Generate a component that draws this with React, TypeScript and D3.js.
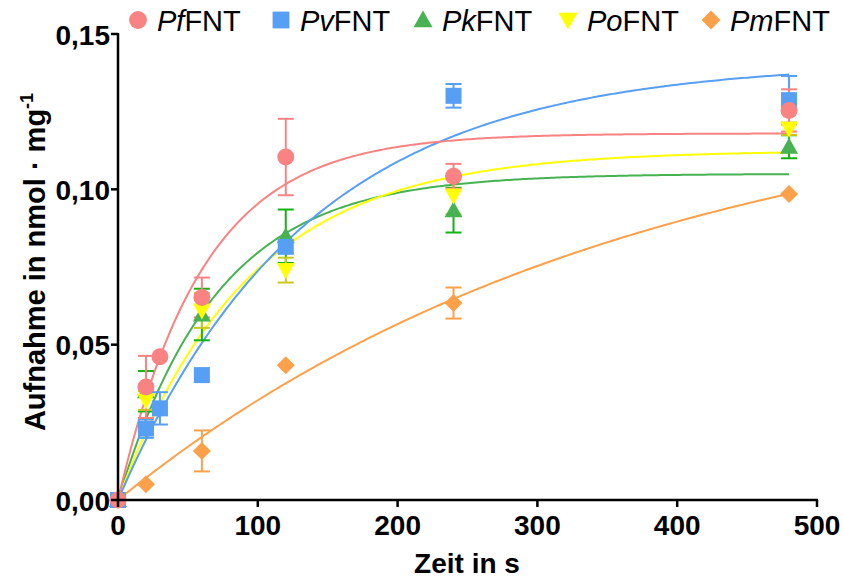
import React from "react";
import * as d3 from "d3";

// ---- data ----
const seriesNames = ["Pf", "Pv", "Pk", "Po", "Pm"];
const pfTime = [0, 20, 30, 60, 120, 240, 480];
const pfValue = [0, 0.0364, 0.0461, 0.0652, 0.1104, 0.1042, 0.1254];
const pfErr = [0, 0.010, 0, 0.0064, 0.0123, 0.004, 0.0068];
const pvTime = [0, 20, 30, 60, 120, 240, 480];
const pvValue = [0, 0.023, 0.0295, 0.0402, 0.0815, 0.1301, 0.1287];
const pvErr = [0, 0.003, 0.0052, 0, 0.002, 0.0038, 0.0078];
const pkTime = [0, 20, 60, 120, 240, 480];
const pkValue = [0, 0.035, 0.0597, 0.0849, 0.0933, 0.1137];
const pkErr = [0, 0.0065, 0.0083, 0.0086, 0.0072, 0.0037];
const poTime = [0, 20, 60, 120, 240, 480];
const poValue = [0, 0.032, 0.061, 0.074, 0.098, 0.1195];
const poErr = [0, 0.003, 0.0056, 0.004, 0.006, 0.002];
const pmTime = [0, 20, 60, 120, 240, 480];
const pmValue = [0, 0.0051, 0.0158, 0.0434, 0.0634, 0.0985];
const pmErr = [0, 0, 0.0066, 0, 0.005, 0];
// one-phase association fit parameters (plateau, rate constant)
const fitPlateau = [0.118, 0.141, 0.105, 0.1125, 0.1357];
const fitRate = [0.0165, 0.0074, 0.0142, 0.0108, 0.0027];
const xTicks = [0, 100, 200, 300, 400, 500];
const yTicks = [0, 0.05, 0.1, 0.15];

const colors = ["#F98282", "#569FF5", "#47B251", "#FFFF00", "#FDA04A"];
const errColors = ["#F98282", "#569FF5", "#13B213", "#C8C81E", "#FDA04A"];
const shapes = ["circle", "square", "triangle", "invtriangle", "diamond"];

const series = [
  { t: pfTime, v: pfValue, e: pfErr },
  { t: pvTime, v: pvValue, e: pvErr },
  { t: pkTime, v: pkValue, e: pkErr },
  { t: poTime, v: poValue, e: poErr },
  { t: pmTime, v: pmValue, e: pmErr },
];

const W = 843, H = 581;
const x = d3.scaleLinear().domain([0, 500]).range([118, 817]);
const y = d3.scaleLinear().domain([0, 0.15]).range([500, 34]);
const fmt = (v: number) => d3.format(".2f")(v).replace(".", ",");
const FONT = "'Liberation Sans', Arial, sans-serif";

function Marker({ shape, cx, cy, color, s = 1 }: { shape: string; cx: number; cy: number; color: string; s?: number }) {
  if (shape === "circle") return <circle cx={cx} cy={cy} r={8.5 * s} fill={color} />;
  if (shape === "square") return <rect x={cx - 8 * s} y={cy - 8 * s} width={16 * s} height={16 * s} fill={color} />;
  if (shape === "triangle")
    return <path d={`M${cx},${cy - 9 * s}L${cx + 9 * s},${cy + 7 * s}L${cx - 9 * s},${cy + 7 * s}Z`} fill={color} />;
  if (shape === "invtriangle")
    return <path d={`M${cx},${cy + 9 * s}L${cx + 9 * s},${cy - 7 * s}L${cx - 9 * s},${cy - 7 * s}Z`} fill={color} />;
  return <path d={`M${cx},${cy - 9 * s}L${cx + 9 * s},${cy}L${cx},${cy + 9 * s}L${cx - 9 * s},${cy}Z`} fill={color} />;
}

export default function App() {
  const drawOrder = [4, 2, 3, 1, 0];
  const curveTimes = d3.range(0, 480.5, 2);
  const line = d3
    .line<number[]>()
    .x((d) => x(d[0]))
    .y((d) => y(d[1]));

  const legendX = [138, 281, 423, 568, 711];

  return (
    <svg width={W} height={H} style={{ position: "absolute", left: 0, top: 0, background: "#fff" }} fontFamily={FONT}>
      {/* fitted curves */}
      {drawOrder.map((i) => (
        <path
          key={"c" + i}
          d={line(curveTimes.map((t) => [t, fitPlateau[i] * (1 - Math.exp(-fitRate[i] * t))])) || ""}
          fill="none"
          stroke={colors[i]}
          strokeWidth={2}
        />
      ))}
      {/* error bars */}
      {drawOrder.map((i) =>
        series[i].t.map((t, j) => {
          const e = series[i].e[j];
          if (!e) return null;
          const cx = x(t);
          const y1 = y(series[i].v[j] + e);
          const y2 = y(series[i].v[j] - e);
          return (
            <g key={"e" + i + "-" + j} stroke={errColors[i]} strokeWidth={2}>
              <line x1={cx} x2={cx} y1={y1} y2={y2} />
              <line x1={cx - 8} x2={cx + 8} y1={y1} y2={y1} />
              <line x1={cx - 8} x2={cx + 8} y1={y2} y2={y2} />
            </g>
          );
        })
      )}
      {/* markers */}
      {drawOrder.map((i) =>
        series[i].t.map((t, j) => (
          <Marker key={"m" + i + "-" + j} shape={shapes[i]} cx={x(t)} cy={y(series[i].v[j])} color={colors[i]} />
        ))
      )}
      {/* axes */}
      <g stroke="#000" strokeWidth={2.5}>
        <line x1={x(0)} x2={x(0)} y1={y(0.15) - 1} y2={y(0) + 1.25} />
        <line x1={x(0) - 1.25} x2={x(500) + 1} y1={y(0)} y2={y(0)} />
        {yTicks.map((v) => (
          <line key={"yt" + v} x1={x(0) - 7} x2={x(0)} y1={y(v)} y2={y(v)} />
        ))}
        {xTicks.map((v) => (
          <line key={"xt" + v} x1={x(v)} x2={x(v)} y1={y(0)} y2={y(0) + 7} />
        ))}
      </g>
      {yTicks.map((v) => (
        <text key={"yl" + v} x={x(0) - 8} y={y(v) + 10.5} textAnchor="end" fontSize={28} fontWeight="bold">
          {fmt(v)}
        </text>
      ))}
      {xTicks.map((v) => (
        <text key={"xl" + v} x={x(v)} y={535} textAnchor="middle" fontSize={28} fontWeight="bold">
          {v}
        </text>
      ))}
      <text x={467} y={573} textAnchor="middle" fontSize={28} fontWeight="bold">
        Zeit in s
      </text>
      <text transform="translate(45,262) rotate(-90)" textAnchor="middle" fontSize={29} fontWeight="bold">
        Aufnahme in nmol · mg
        <tspan dy={-12} fontSize={18}>-1</tspan>
      </text>
      {/* legend */}
      {seriesNames.map((n, i) => (
        <g key={"lg" + i}>
          <Marker shape={shapes[i]} cx={legendX[i]} cy={20} color={colors[i]} s={1.05} />
          <text x={legendX[i] + 19} y={31} fontSize={29}>
            <tspan fontStyle="italic">{n}</tspan>FNT
          </text>
        </g>
      ))}
    </svg>
  );
}
